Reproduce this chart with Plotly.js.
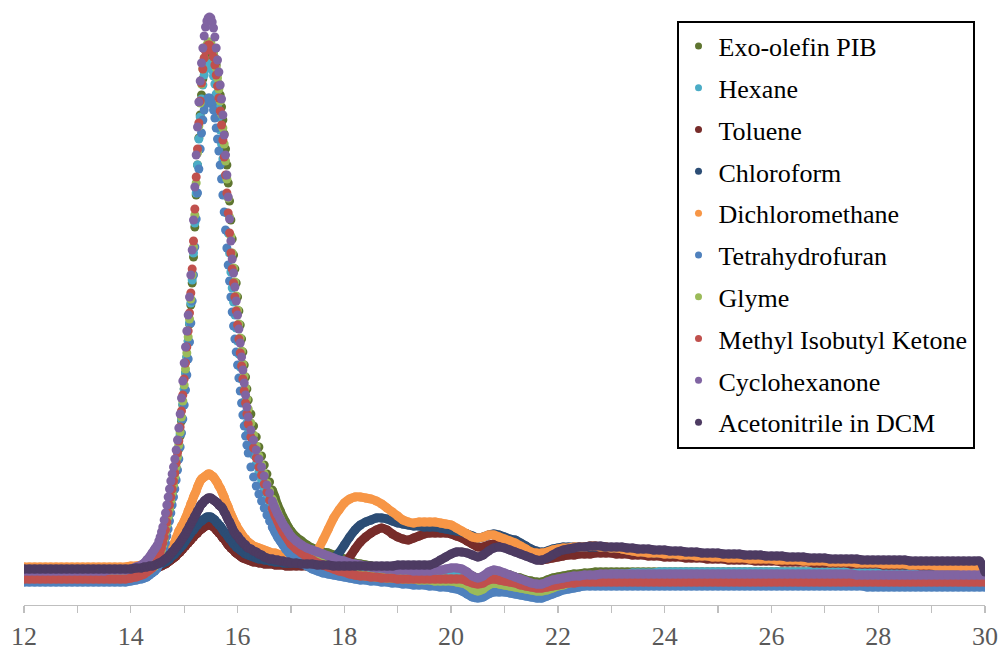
<!DOCTYPE html>
<html>
<head>
<meta charset="utf-8">
<script src="https://cdn.plot.ly/plotly-3.0.1.min.js"></script>
<style>
html,body{margin:0;padding:0;background:#fff;}
#chart{width:1001px;height:650px;}
</style>
</head>
<body>
<div id="chart"></div>
<script>
// Elution time grid (min)
const time = [
12.0,12.1,12.2,12.3,12.4,12.5,12.6,12.7,12.8,12.9,
13.0,13.1,13.2,13.3,13.4,13.5,13.6,13.7,13.8,13.9,
14.0,14.1,14.2,
14.25,14.3,14.35,14.4,14.45,
14.5,14.525,14.55,14.575,14.6,14.625,14.65,14.675,14.7,14.725,
14.75,14.775,14.8,14.825,14.85,14.875,14.9,14.925,14.95,14.975,
15.0,15.025,15.05,15.075,15.1,15.125,15.15,15.175,15.2,15.225,
15.25,15.275,15.3,15.325,15.35,15.375,15.4,15.425,15.45,15.475,
15.5,15.525,15.55,15.575,15.6,15.625,15.65,15.675,15.7,15.725,
15.75,15.775,15.8,15.825,15.85,15.875,15.9,15.925,15.95,15.975,
16.0,16.025,16.05,16.075,16.1,16.125,16.15,16.175,16.2,
16.25,16.3,16.35,16.4,16.45,16.5,16.55,16.6,16.65,16.7,
16.75,16.8,16.85,16.9,16.95,17.0,
17.1,17.2,17.3,17.4,17.5,17.6,17.7,17.8,17.9,18.0,
18.1,18.2,18.3,18.4,18.5,18.6,18.7,18.8,18.9,19.0,
19.1,19.2,19.3,19.4,19.5,19.6,19.7,19.8,19.9,20.0,
20.1,20.2,20.3,20.4,20.5,20.6,20.7,20.8,20.9,21.0,
21.1,21.2,21.3,21.4,21.5,21.6,21.7,21.8,21.9,22.0,
22.1,22.2,22.3,22.4,22.5,22.6,22.7,22.8,22.9,23.0,
23.1,23.2,23.3,23.4,23.5,23.6,23.7,23.8,23.9,24.0,
24.1,24.2,24.3,24.4,24.5,24.6,24.7,24.8,24.9,25.0,
25.1,25.2,25.3,25.4,25.5,25.6,25.7,25.8,25.9,26.0,
26.1,26.2,26.3,26.4,26.5,26.6,26.7,26.8,26.9,27.0,
27.1,27.2,27.3,27.4,27.5,27.6,27.7,27.8,27.9,28.0,
28.1,28.2,28.3,28.4,28.5,28.6,28.7,28.8,28.9,29.0,
29.1,29.2,29.3,29.4,29.5,29.6,29.7,29.8,29.9,30.0
];

const exoOlefinPIB = [
27,27,27,27,27,27,27,27,27,27,
27,27,27,27,27,27,27,27,27,27,
28,29,30,
31,33,35,37,39,
42,46,50,54,59,65,71,78,86,94,
102,110,118,126,135,145,156,169,184,200,
216,232,248,264,281,300,322,348,378,410,
440,467,490,510,526,538,547,553,557,559,
559,557,553,547,540,531,521,510,498,485,
471,456,440,422,404,385,366,350,336,322,
308,294,280,266,253,240,228,216,205,
191,179,168,158,149,140,131,123,115,108,
100,94,88,83,78,74,
68,64,60,57,55,53,52,50,48,46,
44,42,41,40,39,38,37,36,36,35,
35,35,35,35,34,34,34,34,34,34,
34,34,32,29,27,28,31,33,32,31,
30,28,27,25,24,23,23,25,27,28,
29,30,31,31,32,32,33,33,33,33,
33,33,33,33,33,33,33,33,33,33,
33,33,33,33,33,33,33,33,33,33,
33,33,33,33,33,33,33,33,33,33,
33,33,33,33,33,33,33,33,33,33,
33,33,33,33,33,33,33,33,33,33,
33,33,33,33,33,33,33,33,33,33,
33,33,33,33,33,33,33,33,33,33
];

const hexane = [
27,27,27,27,27,27,27,27,27,27,
27,27,27,27,27,27,27,27,27,27,
28,29,30,
31,33,35,38,41,
44,48,52,56,61,67,73,80,88,96,
104,112,120,128,137,147,158,171,186,201,
216,232,248,264,282,302,325,352,382,412,
440,466,488,506,520,530,536,539,541,541,
539,535,529,521,511,500,488,475,461,446,
428,410,392,372,352,333,317,303,290,277,
264,251,238,226,214,203,192,182,172,
160,150,141,133,125,117,110,103,96,90,
84,79,74,70,66,63,
58,54,51,48,46,44,42,40,39,38,
37,36,35,34,33,33,32,32,31,31,
30,30,30,30,30,30,30,30,30,30,
30,29,27,25,24,25,28,29,28,27,
26,25,23,22,20,19,19,21,23,24,
25,26,27,28,28,29,29,30,30,31,
31,31,31,32,32,32,32,32,33,33,
33,33,33,33,33,33,33,33,33,33,
33,33,33,33,33,33,33,33,33,33,
33,33,33,33,33,33,33,33,33,33,
33,33,33,33,33,33,33,33,33,33,
33,33,33,33,33,33,33,33,33,33,
33,33,33,33,33,33,33,33,33,33
];

const toluene = [
33,33,33,33,33,33,33,33,33,33,
33,33,33,33,33,33,33,33,33,33,
34,34,35,
35,36,36,37,37,
38,38,39,39,40,41,41,42,43,44,
45,46,47,48,49,51,52,53,55,56,
58,59,61,62,64,65,67,68,70,71,
72,74,75,76,77,78,79,80,80,80,
80,79,78,77,75,74,72,71,69,67,
66,64,62,60,59,57,56,55,53,52,
51,50,49,48,47,47,46,46,45,
44,43,43,42,42,41,41,41,41,40,
40,40,40,39,39,39,
39,39,39,39,39,39,39,39,40,42,
48,56,63,68,72,75,77,75,71,68,
66,65,67,69,71,72,72,72,72,71,
69,67,64,61,58,58,60,61,62,61,
59,58,55,52,49,46,45,46,47,48,
49,50,50,51,51,51,52,52,52,52,
51,51,51,50,50,50,49,49,49,48,
48,48,48,47,47,47,47,46,46,46,
46,45,45,45,45,45,44,44,44,44,
44,43,43,43,43,43,43,42,42,42,
42,42,42,42,41,41,41,41,41,41,
40,40,40,40,40,40,40,39,39,39,
39,39,39,39,39,38,38,38,38,38
];

const chloroform = [
34,34,34,34,34,34,34,34,34,34,
34,34,34,34,34,34,34,34,34,34,
35,35,36,
36,37,37,38,39,
40,40,41,41,42,43,43,44,45,46,
48,49,50,51,53,54,56,57,59,60,
62,64,66,68,70,72,74,75,77,79,
80,82,83,84,85,86,87,88,88,88,
88,87,86,85,83,82,80,79,77,75,
73,72,70,68,66,65,63,61,60,58,
57,56,55,54,53,52,51,51,50,
49,48,47,46,46,45,45,44,44,43,
43,43,42,42,42,42,
42,42,42,42,43,44,45,47,52,60,
68,75,80,83,85,87,87,86,84,82,
81,80,79,79,78,78,78,77,76,75,
74,73,71,69,67,68,70,71,70,68,
66,65,62,59,56,54,53,54,56,57,
58,58,58,58,58,58,58,58,58,57,
57,56,55,54,54,53,53,52,52,52,
51,51,51,50,50,50,50,49,49,49,
49,48,48,48,48,47,47,47,47,46,
46,46,46,46,45,45,45,45,45,44,
44,44,44,44,43,43,43,43,43,42,
42,42,42,42,41,41,41,41,41,41,
40,40,40,40,40,40,39,39,39,39
];

const dichloromethane = [
38,38,38,38,38,38,38,38,38,38,
38,38,38,38,38,38,38,38,38,38,
39,39,40,
40,41,41,42,43,
45,45,46,46,47,47,48,48,49,52,
55,57,60,63,67,70,74,76,79,81,
84,87,90,94,97,101,104,108,111,114,
118,121,124,126,127,128,129,130,131,131,
130,129,128,126,124,122,119,117,114,111,
108,104,101,98,94,91,88,85,82,80,
77,75,73,71,69,67,66,64,63,
61,59,58,57,56,55,54,53,52,52,
51,50,49,49,48,47,
46,46,47,49,55,65,76,87,95,102,
106,108,108,107,106,104,101,97,93,89,
85,83,82,83,83,83,83,82,81,80,
77,74,71,68,67,68,70,70,68,66,
64,62,59,56,53,52,52,53,55,56,
57,57,58,58,58,59,59,58,58,57,
57,56,55,54,53,53,52,52,52,51,
51,51,50,50,50,49,49,49,48,48,
48,47,47,47,47,46,46,46,46,46,
45,45,45,45,45,44,44,44,44,44,
43,43,43,43,43,42,42,42,42,42,
41,41,41,41,41,40,40,40,40,40,
39,39,39,39,39,38,38,38,38,38
];

const tetrahydrofuran = [
23,23,23,23,23,23,23,23,23,23,
23,23,23,23,23,23,23,23,23,23,
24,25,26,
27,28,30,32,34,
37,40,43,47,51,56,62,69,76,84,
92,100,108,116,125,135,146,158,172,186,
200,215,230,246,263,282,304,330,358,386,
412,436,456,472,485,495,501,505,507,507,
505,501,495,487,477,466,454,440,426,410,
393,375,357,340,324,308,293,279,266,253,
240,227,214,202,190,179,169,160,152,
138,128,119,111,104,97,90,84,78,73,
68,64,60,56,53,50,
46,42,39,36,34,32,31,30,29,28,
27,26,25,25,24,24,23,23,22,22,
21,21,20,20,20,19,19,18,18,17,
16,14,11,8,7,8,11,13,13,13,
12,11,10,9,8,7,7,9,11,13,
15,16,17,18,19,19,19,19,19,19,
19,19,19,19,19,19,19,19,19,19,
19,19,19,19,19,19,19,19,19,19,
19,19,19,19,19,19,19,19,19,19,
19,19,19,19,19,19,19,19,19,19,
19,19,19,19,19,19,19,18,18,18,
18,18,18,18,18,18,18,18,18,18,
18,18,18,18,18,18,18,18,18,18
];

const glyme = [
28,28,28,28,28,28,28,28,28,28,
28,28,28,28,28,28,28,28,28,28,
29,30,31,
32,33,35,37,39,
42,46,50,55,60,66,73,80,88,96,
104,112,120,128,138,148,160,173,188,204,
220,236,252,268,286,306,330,358,390,422,
452,479,502,521,536,547,555,560,563,563,
562,558,553,546,537,527,516,504,491,477,
461,444,426,407,388,369,352,337,323,309,
295,281,267,254,241,229,217,206,196,
182,170,159,149,140,131,122,114,106,99,
92,86,80,75,70,66,
61,56,52,48,45,42,40,38,36,34,
32,31,30,29,29,28,28,27,27,27,
26,26,26,25,25,25,24,24,24,24,
23,22,20,16,14,16,20,22,21,20,
19,18,17,16,15,14,14,15,17,19,
20,22,23,24,24,25,25,25,26,26,
26,26,26,26,26,26,26,26,26,26,
26,26,26,26,26,26,26,26,26,26,
26,26,26,26,26,26,26,26,26,26,
26,26,26,26,26,26,26,26,26,26,
26,26,26,26,26,26,26,26,26,26,
26,26,26,26,26,26,26,26,26,26,
26,26,26,26,26,26,26,26,26,26
];

const methylIsobutylKetone = [
26,26,26,26,26,26,26,26,26,26,
26,26,26,26,26,26,26,26,26,26,
27,28,30,
31,33,35,37,40,
44,48,52,57,62,68,75,83,92,100,
108,116,124,132,142,152,164,178,194,210,
226,242,258,274,292,312,336,364,396,428,
456,482,504,522,536,547,554,558,560,560,
558,554,548,540,530,519,507,494,480,465,
448,430,412,392,372,352,336,322,308,294,
280,266,252,239,226,214,202,191,181,
168,157,147,138,130,121,113,105,97,90,
84,78,73,69,65,61,
56,52,48,45,42,40,38,36,34,33,
31,30,29,29,28,28,27,27,27,26,
26,26,26,26,26,26,26,26,26,26,
26,26,24,22,21,22,25,26,25,24,
23,22,20,19,18,17,17,18,19,20,
21,22,22,23,23,23,23,23,23,23,
23,23,23,23,23,23,23,23,23,23,
23,23,23,23,23,23,23,23,23,23,
23,23,23,23,23,23,23,23,23,23,
23,23,23,23,23,23,23,23,23,23,
23,23,23,23,23,23,23,23,23,23,
23,23,23,23,23,23,23,23,23,23,
23,23,23,23,23,23,23,23,23,23
];

const cyclohexanone = [
34,34,34,34,34,34,34,34,34,34,
34,34,34,34,34,34,35,35,35,35,
36,38,40,
42,45,48,52,56,
60,64,68,73,78,85,92,100,108,116,
124,131,138,146,155,165,177,191,207,224,
242,258,274,290,308,330,355,385,418,450,
478,503,524,542,557,569,578,584,587,588,
587,583,577,568,557,545,533,520,506,490,
470,450,430,408,386,364,346,332,318,304,
290,276,262,248,235,222,210,198,188,
175,165,155,146,138,129,120,112,104,97,
91,86,81,77,73,69,
64,60,57,55,53,51,49,47,45,44,
42,41,40,39,38,37,37,36,36,35,
35,35,34,34,34,34,35,35,36,37,
37,36,33,29,27,29,33,35,34,32,
30,28,26,24,22,21,21,23,25,26,
27,28,29,29,30,30,30,31,31,31,
31,31,31,31,31,31,31,31,31,31,
31,31,31,31,31,31,31,31,31,31,
31,31,31,31,31,31,31,31,31,31,
31,31,31,31,31,31,31,31,31,31,
31,31,31,31,31,30,30,30,30,30,
30,30,30,30,30,30,30,30,30,30,
30,30,30,30,30,30,30,30,30,30
];

const acetonitrileInDCM = [
36,36,36,36,36,36,36,36,36,36,
36,36,36,36,36,36,36,36,36,36,
36,37,37,
38,38,39,39,40,
41,42,42,43,44,45,46,47,48,50,
51,53,54,56,58,59,61,63,65,67,
69,71,74,76,79,81,84,86,89,91,
94,96,99,101,102,104,105,106,107,107,
107,106,105,104,103,102,100,99,98,96,
93,91,88,85,83,80,77,74,72,70,
69,67,65,64,62,61,60,58,57,
56,54,53,51,50,48,47,46,46,45,
45,44,44,43,43,42,
42,41,41,41,40,40,40,39,39,39,
39,39,39,39,39,39,39,39,39,40,
40,40,40,40,40,40,42,45,48,51,
53,53,52,50,48,50,54,57,58,57,
55,53,51,49,47,45,45,47,50,53,
55,56,57,58,58,59,59,59,58,58,
58,58,57,57,56,56,56,55,55,55,
54,54,54,53,53,53,52,52,52,52,
51,51,51,51,50,50,50,50,49,49,
49,49,48,48,48,48,47,47,47,47,
46,46,46,46,46,46,45,45,45,45,
45,45,45,45,45,44,44,44,44,44,
44,44,44,44,44,44,44,44,44,33
];

const seriesNames = ["Exo-olefin PIB","Hexane","Toluene","Chloroform","Dichloromethane",
  "Tetrahydrofuran","Glyme","Methyl Isobutyl Ketone","Cyclohexanone","Acetonitrile in DCM"];
const seriesValues = [exoOlefinPIB, hexane, toluene, chloroform, dichloromethane,
  tetrahydrofuran, glyme, methylIsobutylKetone, cyclohexanone, acetonitrileInDCM];
const seriesColors = ["#5F7530","#4BACC6","#772C2A","#2C4D75","#F79646",
  "#4F81BD","#9BBB59","#C0504D","#8064A2","#4D3B62"];
// series whose tall main peak shows as separate dots (no joining band there)
const tallPeak = [true,true,false,false,false,true,true,true,true,false];
const dotSpan = [14.51, 16.62];

const traces = [];
seriesValues.forEach((vals, i) => {
  if (vals.length !== time.length) console.error(seriesNames[i] + " length " + vals.length + " vs " + time.length);
  const bandY = vals.map((v, k) => (tallPeak[i] && time[k] > dotSpan[0] && time[k] < dotSpan[1]) ? null : v);
  traces.push({
    type: "scatter", mode: "lines", x: time, y: bandY, name: seriesNames[i],
    showlegend: false, hoverinfo: "skip", connectgaps: false,
    line: {color: seriesColors[i], width: 9, shape: "spline", smoothing: 0.7}
  });
  traces.push({
    type: "scatter", mode: "markers", x: time, y: vals, name: seriesNames[i],
    showlegend: false, hoverinfo: "skip",
    marker: {size: 9, color: seriesColors[i], line: {width: 0}}
  });
});
// legend entries (small dots)
seriesNames.forEach((n, i) => {
  traces.push({
    type: "scatter", mode: "markers", x: [null], y: [null], name: n,
    legendgroup: "g" + i, showlegend: true, hoverinfo: "skip",
    marker: {size: 7, color: seriesColors[i], line: {width: 0}}
  });
});

const serif = "Liberation Serif";
const axisGray = "#bfbfbf";
const layout = {
  width: 1001, height: 650,
  margin: {l: 24, r: 16, t: 0, b: 45},
  paper_bgcolor: "#ffffff", plot_bgcolor: "#ffffff",
  showlegend: true,
  font: {family: serif, size: 26, color: "#000000"},
  xaxis: {
    range: [12, 30], tick0: 12, dtick: 2,
    ticks: "outside", ticklen: 7, tickwidth: 1.3, tickcolor: axisGray,
    showline: true, linecolor: axisGray, linewidth: 1.3,
    showgrid: false, zeroline: false, fixedrange: true,
    tickfont: {family: serif, size: 26, color: "#595959"},
    minor: {tick0: 12, dtick: 1, ticks: "outside", ticklen: 7, tickwidth: 1.3, tickcolor: axisGray, showgrid: false}
  },
  xaxis2: {
    overlaying: "x", anchor: "y", side: "bottom",
    range: [12, 30], tick0: 12, dtick: 1,
    ticks: "inside", ticklen: 8, tickwidth: 1.3, tickcolor: axisGray,
    showticklabels: false, showline: false, showgrid: false, zeroline: false, fixedrange: true
  },
  yaxis: {range: [0, 605], visible: false, fixedrange: true},
  legend: {
    x: 0.679, xanchor: "left", y: 0.966, yanchor: "top",
    bgcolor: "#ffffff", bordercolor: "#000000", borderwidth: 2,
    font: {family: serif, size: 26, color: "#000000"},
    traceorder: "grouped", tracegroupgap: 5, itemwidth: 30
  }
};

Plotly.newPlot("chart", traces, layout, {staticPlot: true, displayModeBar: false});
</script>
</body>
</html>
